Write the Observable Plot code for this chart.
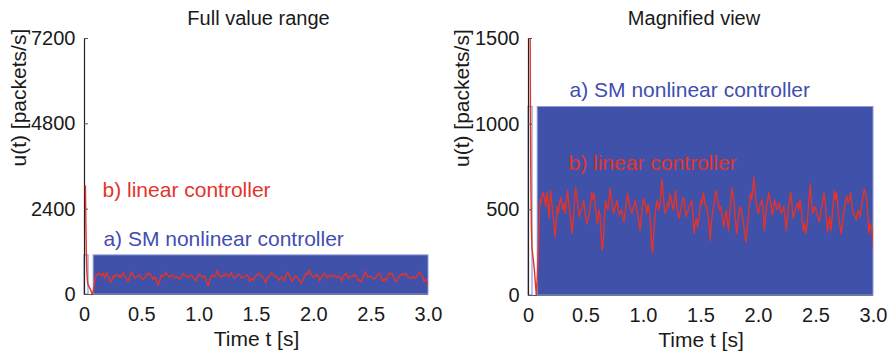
<!DOCTYPE html>
<html>
<head>
<meta charset="utf-8">
<script src="https://cdn.jsdelivr.net/npm/d3@7"></script>
<script src="https://cdn.jsdelivr.net/npm/@observablehq/plot@0.6"></script>
<style>
  body { margin: 0; background: #fff; }
  #fig { display: flex; width: 892px; height: 353px; }
</style>
</head>
<body>
<div id="fig"></div>
<script>
// Control input u(t) of two congestion controllers, 0–3 s.

// x-axis ticks (seconds)
const xTicks = [0, 0.5, 1.0, 1.5, 2.0, 2.5, 3.0];
const xTickLabels = ["0", "0.5", "1.0", "1.5", "2.0", "2.5", "3.0"];

// y-axis ticks of each panel (packets/s)
const yTicksFull = [0, 2400, 4800, 7200];
const yTicksZoom = [0, 500, 1000, 1500];

// a) SM nonlinear controller: chattering between 0 and its upper bound.
// First a short start pulse, then the sliding-mode band until the end.
const smPhase = ["start pulse", "sliding mode"];
const smStart = [0, 0.08];
const smEnd = [0.035, 3.0];
const smHigh = [1100, 1100];

// b) linear controller: start-up transient (time, value)
const linHeadTime = [0.008, 0.012, 0.016, 0.02, 0.025, 0.03, 0.04, 0.05, 0.06, 0.068, 0.08, 0.09];
const linHeadU = [3050, 2000, 1200, 700, 400, 280, 220, 160, 70, 0, 150, 380];

// b) linear controller: steady part sampled every 10 ms from 0.10 s to 3.00 s
const linBodyStart = 0.10;
const linBodyStep = 0.01;
const linBodyU = [
  560, 540, 595, 600, 560, 520, 600, 530, 455, 613,
  560, 500, 430, 340, 420, 520, 480, 540, 572, 530,
  500, 540, 480, 560, 613, 540, 480, 430, 360, 450,
  560, 630, 580, 520, 460, 490, 500, 530, 555, 490,
  450, 420, 460, 480, 540, 600, 560, 595, 520, 470,
  420, 500, 480, 380, 263, 300, 450, 555, 520, 500,
  560, 625, 570, 520, 480, 510, 530, 555, 500, 470,
  490, 500, 460, 430, 480, 540, 595, 560, 520, 500,
  480, 510, 530, 555, 500, 470, 430, 380, 450, 520,
  570, 540, 520, 480, 530, 500, 420, 300, 245, 380,
  470, 520, 555, 500, 520, 580, 680, 600, 520, 480,
  500, 540, 520, 595, 560, 530, 500, 560, 615, 520,
  480, 450, 490, 520, 560, 570, 520, 460, 480, 500,
  520, 540, 555, 480, 360, 420, 450, 400, 440, 500,
  560, 540, 600, 560, 520, 520, 470, 420, 321, 420,
  480, 520, 560, 613, 580, 540, 500, 520, 480, 440,
  400, 460, 500, 430, 380, 480, 560, 625, 580, 520,
  440, 360, 420, 480, 520, 500, 460, 420, 360, 310,
  380, 450, 520, 595, 560, 620, 690, 600, 540, 500,
  480, 520, 540, 560, 500, 380, 450, 520, 560, 600,
  560, 520, 470, 500, 560, 530, 500, 520, 540, 500,
  480, 500, 520, 460, 380, 440, 520, 560, 600, 540,
  450, 480, 500, 520, 540, 500, 560, 520, 440, 380,
  420, 360, 400, 480, 560, 650, 560, 480, 500, 520,
  500, 470, 450, 430, 480, 520, 560, 600, 540, 460,
  370, 420, 460, 380, 450, 540, 610, 560, 600, 520,
  440, 400, 360, 420, 480, 520, 560, 580, 540, 560,
  600, 540, 500, 470, 460, 440, 480, 500, 460, 480,
  540, 580, 620, 600, 560, 480, 360, 420, 400, 360,
  270
];

// annotation texts with their anchor (time, value) in each panel
const labelText = ["b) linear controller", "a) SM nonlinear controller"];
const labelColor = ["#e3342b", "#3f4fae"];
const labelFullT = [0.157, 0.165];
const labelFullU = [2756, 1378];
const labelZoomT = [0.348, 0.357];
const labelZoomU = [730, 1156];

// tables for the marks
const smBands = smPhase.map((p, i) => ({phase: p, t0: smStart[i], t1: smEnd[i], u: smHigh[i]}));
const linear = [
  ...linHeadTime.map((t, i) => ({t, u: linHeadU[i]})),
  ...linBodyU.map((u, i) => ({t: +(linBodyStart + i * linBodyStep).toFixed(3), u}))
];

const RED = "#e3342b";
const BLUE = "#3f51a8";
const BLUE_EDGE = "#8e9bd8";
const FONT = "'Liberation Sans', Arial, Helvetica, sans-serif";

function panel({title, titleDx, yMax, yTicks, width, marginLeft, marginRight, marginBottom, labT, labU, labelDx}) {
  const marginTop = 38;
  const innerW = width - marginLeft - marginRight;
  const labels = labelText.map((s, i) => ({s, t: labT[i], u: labU[i], c: labelColor[i]}));
  return Plot.plot({
    width, height: 353, marginLeft, marginRight, marginTop, marginBottom,
    style: {fontFamily: FONT, fontSize: "20px", color: "#1a1a1a", background: "white", overflow: "visible"},
    x: {domain: [0, 3], label: null},
    y: {domain: [0, yMax], label: null},
    marks: [
      Plot.ruleY([0], {stroke: "#555", strokeWidth: 1}),
      // start pulse: an outline only
      Plot.rect(smBands.filter(d => d.phase === "start pulse"), {
        x1: "t0", x2: "t1", y1: 0, y2: "u", fill: "none", stroke: BLUE_EDGE, strokeWidth: 1.2
      }),
      // sliding mode: chattering fills the band
      Plot.rect(smBands.filter(d => d.phase === "sliding mode"), {
        x1: "t0", x2: "t1", y1: 0, y2: "u", fill: BLUE, stroke: BLUE_EDGE, strokeWidth: 1
      }),
      Plot.ruleX([0], {stroke: "#222", strokeWidth: 1.2}),
      Plot.line(linear, {x: "t", y: "u", stroke: RED, strokeWidth: 1.4, clip: true}),
      Plot.tickY(yTicks, {y: d => d, insetRight: innerW - 4, stroke: "#555", strokeWidth: 1}),
      Plot.axisX({ticks: xTicks, tickFormat: d => xTickLabels[xTicks.indexOf(d)], tickSize: 0, tickPadding: 12, label: null, fontSize: 20}),
      Plot.axisY({ticks: yTicks, tickFormat: d => String(d), tickSize: 0, tickPadding: 9, label: null, fontSize: 20}),
      Plot.text([title], {frameAnchor: "top", lineAnchor: "bottom", dy: -14, dx: titleDx, fontSize: 20, fill: "#1a1a1a"}),
      Plot.text(["Time t [s]"], {frameAnchor: "bottom", lineAnchor: "bottom", dy: 51, fontSize: 21, fill: "#1a1a1a"}),
      Plot.text(["u(t) [packets/s]"], {frameAnchor: "left", lineAnchor: "bottom", rotate: -90, dx: labelDx, fontSize: 21, fill: "#1a1a1a"}),
      Plot.text(labels, {x: "t", y: "u", text: "s", fill: "c", textAnchor: "start", lineAnchor: "bottom", fontSize: 21})
    ]
  });
}

const fig = document.getElementById("fig");
fig.append(panel({
  title: "Full value range", titleDx: 2, yMax: 7200, yTicks: yTicksFull,
  width: 446, marginLeft: 84, marginRight: 18, marginBottom: 59,
  labT: labelFullT, labU: labelFullU, labelDx: -59
}));
fig.append(panel({
  title: "Magnified view", titleDx: -7, yMax: 1500, yTicks: yTicksZoom,
  width: 446, marginLeft: 82, marginRight: 19, marginBottom: 58,
  labT: labelZoomT, labU: labelZoomU, labelDx: -60
}));
</script>
</body>
</html>
